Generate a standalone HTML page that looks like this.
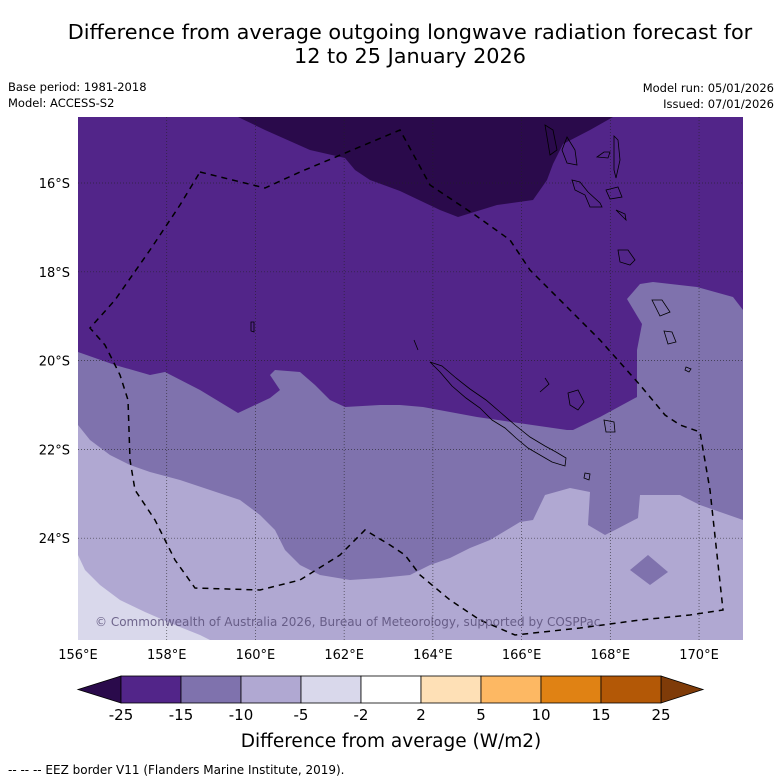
<!DOCTYPE html>
<html><head><meta charset="utf-8">
<style>
body{margin:0;background:#fff;width:781px;height:781px;overflow:hidden;font-family:"DejaVu Sans","Liberation Sans",sans-serif;}
svg{display:block}
</style></head>
<body>
<svg id="chart" width="781" height="781" viewBox="0 0 781 781" xmlns="http://www.w3.org/2000/svg">
<text x="410" y="39" text-anchor="middle" font-size="20.8" fill="#000">Difference from average outgoing longwave radiation forecast for</text>
<text x="410" y="63" text-anchor="middle" font-size="20.8" fill="#000">12 to 25 January 2026</text>
<text x="8" y="91" font-size="11.5">Base period: 1981-2018</text>
<text x="8" y="107" font-size="11.5">Model: ACCESS-S2</text>
<text x="774" y="92" font-size="11.5" text-anchor="end">Model run: 05/01/2026</text>
<text x="774" y="108" font-size="11.5" text-anchor="end">Issued: 07/01/2026</text>

<defs><clipPath id="mapclip"><rect x="78" y="117" width="665" height="523"/></clipPath></defs>
<g clip-path="url(#mapclip)">
  <rect x="78" y="117" width="665" height="523" fill="#522589"/>
  <path fill="#2a0a4b" d="M238,117 L613,117 L590,130 L563,144 L553,164 L547,180 L533,200 L497,205 L458,217 L440,210 L400,191 L370,180 L355,170 L345,158 L310,150 L265,130 Z"/>
  <path fill="#7f72ad" d="M78,352 L115,365 L150,375 L165,372 L200,390 L238,413 L270,398 L280,390 L270,375 L275,370 L300,372 L315,385 L330,400 L345,407 L380,405 L400,405 L423,407 L477,417 L567,430 L573,430 L600,417 L637,397 L637,350 L642,324 L627,299 L640,284 L653,282 L697,287 L733,297 L743,310 L743,640 L78,640 Z"/>
  <path fill="#b0a8d2" d="M78,425 L90,440 L110,455 L130,465 L150,472 L180,480 L210,490 L240,500 L260,515 L275,530 L285,550 L300,565 L320,575 L350,580 L380,578 L410,575 L430,565 L450,558 L470,548 L490,540 L520,522 L533,520 L545,495 L570,488 L590,492 L588,525 L605,535 L615,530 L638,518 L640,495 L680,495 L700,505 L743,520 L743,640 L78,640 Z"/>
  <path fill="#7f72ad" d="M630,570 L648,555 L668,572 L650,585 Z"/>
  <path fill="#d9d8eb" d="M78,555 L85,570 L100,585 L120,600 L145,612 L175,625 L200,635 L210,640 L78,640 Z"/>
  <g id="grid"></g>
  <g fill="none" stroke="#000" stroke-width="0.8">
    <path d="M430,362 L440,372 L452,386 L466,398 L480,408 L492,420 L505,428 L516,438 L528,448 L540,455 L552,462 L565,466 L566,458 L556,452 L545,446 L530,437 L515,425 L500,412 L486,400 L470,389 L456,378 L442,366 Z"/>
    <path d="M545,378 L549,384 L540,392 M568,393 L578,390 L584,402 L578,410 L570,405 Z M604,420 L614,422 L615,432 L606,432 Z M585,473 L590,474 L589,480 L584,478 Z"/>
    <path d="M545,125 L553,130 L557,150 L550,155 Z M567,137 L575,150 L577,165 L567,163 L562,150 Z M572,180 L580,182 L588,192 L600,203 L602,207 L590,207 L585,195 L575,190 Z M597,157 L604,152 L610,152 L608,158 Z M614,136 L618,140 L620,160 L616,178 L614,170 Z M606,190 L618,187 L622,197 L610,199 Z M616,210 L625,214 L626,220 Z M618,250 L628,250 L635,260 L630,265 L620,262 Z M652,300 L662,300 L670,312 L660,316 Z M664,331 L672,332 L676,342 L668,344 Z M686,367 L691,369 L689,372 L685,370 Z M251,322 L254,322 L254,332 L251,331 Z M414,340 L418,350"/>
  </g>
  <path fill="none" stroke="#000" stroke-width="1.5" stroke-dasharray="6,5" d="M200,172 L265,188 L300,172 L400,130 L430,185 L475,215 L510,240 L530,270 L545,285 L570,310 L600,340 L640,385 L665,415 L680,425 L700,432 L710,490 L723,610 L690,615 L640,620 L580,628 L515,635 L480,620 L450,600 L420,575 L405,555 L390,545 L365,530 L340,555 L300,580 L260,590 L195,588 L175,560 L155,520 L135,490 L130,460 L128,400 L120,375 L105,345 L90,328 L115,300 L150,250 L180,205 Z"/>
  <text x="95" y="626" font-size="12" fill="#5a507a" fill-opacity="0.85">© Commonwealth of Australia 2026, Bureau of Meteorology, supported by COSPPac</text>
</g>
<g id="axes"></g>
<g id="colorbar"></g>
<text x="391" y="747" text-anchor="middle" font-size="18.5">Difference from average (W/m2)</text>
<text x="8" y="774" font-size="12">--  --  -- EEZ border V11 (Flanders Marine Institute, 2019).</text>
</svg>
<script>
const lonTicks = [156,158,160,162,164,166,168,170];
const latTicks = [16,18,20,22,24];
const cbLevels = [-25,-15,-10,-5,-2,2,5,10,15,25];
const cbColors = ["#522589","#7f72ad","#b0a8d2","#d9d8eb","#ffffff","#fee0b6","#fdb863","#e08214","#b35806"];
const cbExtendColors = ["#2a0a4b","#7f3b08"];

const NS="http://www.w3.org/2000/svg";
function xLon(l){return 78+(l-156)*44.36;}
function yLat(l){return 183+(l-16)*44.4;}
function mk(t,a,p){const e=document.createElementNS(NS,t);for(const k in a)e.setAttribute(k,a[k]);p.appendChild(e);return e;}
const grid=document.getElementById('grid'), axes=document.getElementById('axes'), cb=document.getElementById('colorbar');
lonTicks.forEach(l=>{
  const x=xLon(l);
  if(l>156){const g=mk('line',{x1:x,x2:x,y1:117,y2:640,stroke:'#222',"stroke-width":0.7,"stroke-dasharray":"1,2","stroke-opacity":0.8},grid);
  
  }
  const t=mk('text',{x:x,y:659,"text-anchor":"middle","font-size":13},axes);t.textContent=l+'°E';
  
  
});
latTicks.forEach(l=>{
  const y=yLat(l);
  const g=mk('line',{x1:78,x2:743,y1:y,y2:y,stroke:'#222',"stroke-width":0.7,"stroke-dasharray":"1,2","stroke-opacity":0.8},grid);
  
  
  const t=mk('text',{x:70,y:y+5,"text-anchor":"end","font-size":13},axes);t.textContent=l+'°S';
  
  
});
const cbX0=121, segW=60, cbY=676, cbH=27;
const n=cbColors.length;
const left=mk('path',{d:`M${cbX0},${cbY} L78,${cbY+cbH/2} L${cbX0},${cbY+cbH} Z`,fill:cbExtendColors[0],stroke:'#000',"stroke-width":0.8},cb);


const xe=cbX0+n*segW;
const right=mk('path',{d:`M${xe},${cbY} L${xe+42},${cbY+cbH/2} L${xe},${cbY+cbH} Z`,fill:cbExtendColors[1],stroke:'#000',"stroke-width":0.8},cb);


cbColors.forEach((c,i)=>{
  const r=mk('rect',{x:cbX0+i*segW,y:cbY,width:segW,height:cbH,fill:c,stroke:'#000',"stroke-width":0.8},cb);
  
  
});
cbLevels.forEach((v,i)=>{
  const t=mk('text',{x:cbX0+i*segW,y:720,"text-anchor":"middle","font-size":15},cb);t.textContent=v;
  
  
});
</script>
</body></html>
